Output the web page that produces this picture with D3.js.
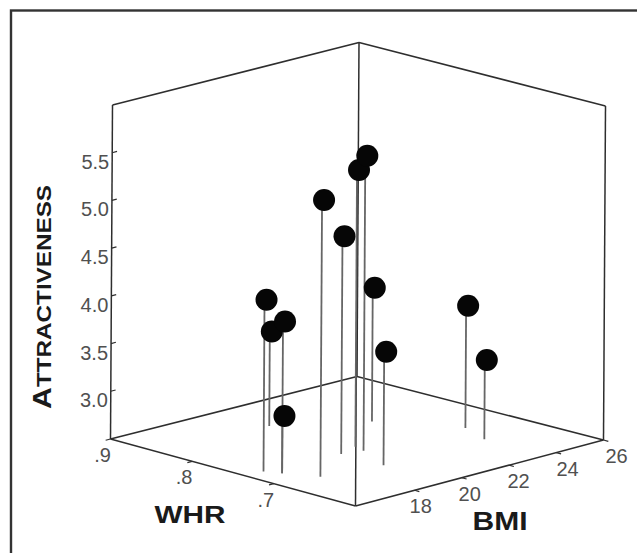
<!DOCTYPE html>
<html>
<head>
<meta charset="utf-8">
<script src="https://cdn.jsdelivr.net/npm/d3@7"></script>
<style>
  html, body { margin: 0; padding: 0; background: #fff; }
  svg { display: block; }
</style>
</head>
<body>
<svg id="chart" width="637" height="553"></svg>
<script>
// ---------------- data ----------------
const whrValues  = [0.734, 0.836, 0.719, 0.719, 0.688, 0.728, 0.722, 0.736, 0.785, 0.676, 0.713, 0.675];
const bmiValues  = [16.24, 20.03, 16.51, 16.51, 17.06, 19.33, 20.07, 20.21, 22.62, 19.32, 24.08, 23.56];
const attrValues = [4.30, 3.49, 4.09, 3.10, 5.40, 4.78, 5.59, 5.40, 3.90, 3.69, 3.78, 3.33];

const whrDomain  = [0.6, 0.9];
const bmiDomain  = [15.5, 26];
const attrDomain = [2.5, 6.0];

const attrTicks = [3.0, 3.5, 4.0, 4.5, 5.0, 5.5];
const attrTickLabels = ["3.0", "3.5", "4.0", "4.5", "5.0", "5.5"];
const whrTicks = [0.9, 0.8, 0.7];
const whrTickLabels = [".9", ".8", ".7"];
const bmiTicks = [18, 20, 22, 24, 26];
const bmiTickLabels = ["18", "20", "22", "24", "26"];

const titleY = "ATTRACTIVENESS";
const titleX = "WHR";
const titleZ = "BMI";

// ---------------- layout / projection ----------------
const svg = d3.select("#chart");

const sScale = d3.scaleLinear().domain(whrDomain).range([0, 1]);   // 0 = front, 1 = left
const tScale = d3.scaleLinear().domain(bmiDomain).range([0, 1]);   // 0 = front, 1 = right
const hScale = d3.scaleLinear().domain(attrDomain).range([0, 1]);  // 0 = floor, 1 = top

const cF = [355.5, 506], cL = [110.5, 439], cR = [603.5, 440], cB = [357, 376.5];
const boxH = 334, tilt = 2;

function proj(w, b, a) {
  const s = sScale(w), t = tScale(b), h = hScale(a);
  const x = cF[0]*(1-s)*(1-t) + cL[0]*s*(1-t) + cR[0]*(1-s)*t + cB[0]*s*t + tilt*h;
  const y = cF[1]*(1-s)*(1-t) + cL[1]*s*(1-t) + cR[1]*(1-s)*t + cB[1]*s*t - boxH*h;
  return [x, y];
}

// outer frame
svg.append("rect")
  .attr("x", 11).attr("y", 10.5)
  .attr("width", 660).attr("height", 600)
  .attr("fill", "none").attr("stroke", "#333").attr("stroke-width", 2.4);

const [w0, w1] = whrDomain, [b0, b1] = bmiDomain, [a0, a1] = attrDomain;
const edges = [
  [[w1, b0, a0], [w0, b0, a0]],
  [[w0, b0, a0], [w0, b1, a0]],
  [[w1, b0, a0], [w1, b1, a0]],
  [[w1, b1, a0], [w0, b1, a0]],
  [[w1, b0, a0], [w1, b0, a1]],
  [[w1, b1, a0], [w1, b1, a1]],
  [[w0, b1, a0], [w0, b1, a1]],
  [[w0, b0, a0], [w0, b0, a1]],
  [[w1, b0, a1], [w1, b1, a1]],
  [[w1, b1, a1], [w0, b1, a1]]
];

const line = d3.line();
svg.append("g").selectAll("path").data(edges).join("path")
  .attr("d", d => line(d.map(p => proj(...p))))
  .attr("fill", "none").attr("stroke", "#2e2e2e").attr("stroke-width", 1.5);

function unit(v) { const l = Math.hypot(v[0], v[1]); return [v[0]/l, v[1]/l]; }
const dirT = unit([cR[0]-cF[0], cR[1]-cF[1]]);
const dirS = unit([cL[0]-cF[0], cL[1]-cF[1]]);
const tickLen = 5;

const tickFont = "'Liberation Sans', Arial, sans-serif";
const tickColor = "#505050";

const gY = svg.append("g");
attrTicks.forEach((v, i) => {
  const p = proj(w1, b0, v);
  gY.append("line")
    .attr("x1", p[0]).attr("y1", p[1])
    .attr("x2", p[0] + dirT[0]*tickLen).attr("y2", p[1] + dirT[1]*tickLen)
    .attr("stroke", "#2e2e2e").attr("stroke-width", 1.2);
  gY.append("text")
    .attr("x", p[0] - 3).attr("y", p[1] + 16)
    .attr("text-anchor", "end")
    .attr("font-family", tickFont).attr("font-size", 20)
    .attr("fill", tickColor)
    .text(attrTickLabels[i]);
});

const gX = svg.append("g");
whrTicks.forEach((v, i) => {
  const p = proj(v, b0, a0);
  gX.append("line")
    .attr("x1", p[0]).attr("y1", p[1])
    .attr("x2", p[0] - dirT[0]*tickLen).attr("y2", p[1] - dirT[1]*tickLen)
    .attr("stroke", "#2e2e2e").attr("stroke-width", 1.2);
  gX.append("text")
    .attr("x", p[0] - 8).attr("y", p[1] + 23)
    .attr("text-anchor", "middle")
    .attr("font-family", tickFont).attr("font-size", 20)
    .attr("fill", tickColor)
    .text(whrTickLabels[i]);
});

const gZ = svg.append("g");
bmiTicks.forEach((v, i) => {
  const p = proj(w0, v, a0);
  const t = tScale(v);
  gZ.append("line")
    .attr("x1", p[0]).attr("y1", p[1])
    .attr("x2", p[0] - dirS[0]*tickLen).attr("y2", p[1] - dirS[1]*tickLen)
    .attr("stroke", "#2e2e2e").attr("stroke-width", 1.2);
  gZ.append("text")
    .attr("x", p[0] + 4 + 9*t).attr("y", p[1] + 23)
    .attr("text-anchor", "middle")
    .attr("font-family", tickFont).attr("font-size", 20)
    .attr("fill", tickColor)
    .text(bmiTickLabels[i]);
});

// axis titles
const titleFont = "'Liberation Sans', Arial, sans-serif";
const ty = svg.append("text")
  .attr("transform", "translate(51,297) rotate(-90)")
  .attr("text-anchor", "middle")
  .attr("font-family", titleFont).attr("font-weight", "bold")
  .attr("fill", "#1a1a1a")
  .attr("textLength", 224).attr("lengthAdjust", "spacingAndGlyphs");
ty.append("tspan").attr("font-size", 25).text(titleY[0]);
ty.append("tspan").attr("font-size", 20).text(titleY.slice(1));

svg.append("text")
  .attr("x", 190).attr("y", 523)
  .attr("text-anchor", "middle")
  .attr("font-family", titleFont).attr("font-weight", "bold")
  .attr("font-size", 24).attr("fill", "#1a1a1a")
  .attr("textLength", 71).attr("lengthAdjust", "spacingAndGlyphs")
  .text(titleX);

svg.append("text")
  .attr("x", 500).attr("y", 530)
  .attr("text-anchor", "middle")
  .attr("font-family", titleFont).attr("font-weight", "bold")
  .attr("font-size", 25).attr("fill", "#1a1a1a")
  .attr("textLength", 55).attr("lengthAdjust", "spacingAndGlyphs")
  .text(titleZ);

// data points
const pts = whrValues.map((w, i) => ({ w, b: bmiValues[i], a: attrValues[i] }));

svg.append("g").selectAll("path").data(pts).join("path")
  .attr("d", d => line([proj(d.w, d.b, a0), proj(d.w, d.b, d.a)]))
  .attr("stroke", "#666").attr("stroke-width", 1.8).attr("fill", "none");

const depth = d => sScale(d.w) + tScale(d.b);
svg.append("g").selectAll("circle")
  .data(pts.slice().sort((p, q) => depth(q) - depth(p)))
  .join("circle")
  .attr("cx", d => proj(d.w, d.b, d.a)[0] + 2)
  .attr("cy", d => proj(d.w, d.b, d.a)[1])
  .attr("r", 11)
  .attr("fill", "#060606");
</script>
</body>
</html>
